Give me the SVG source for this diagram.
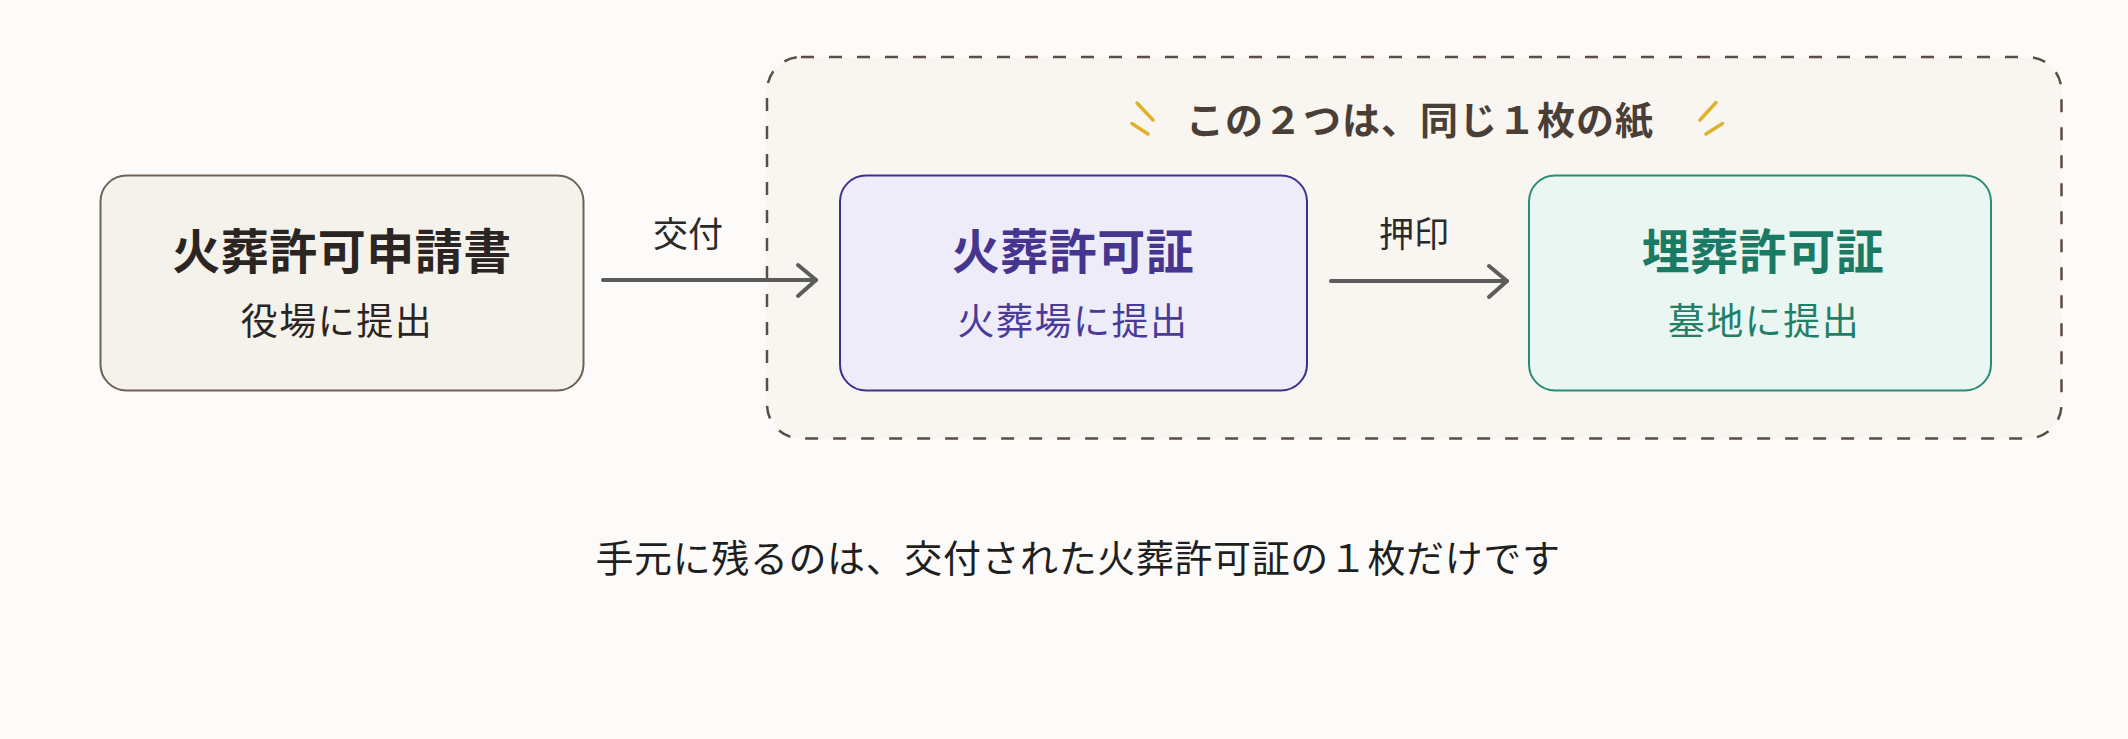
<svg xmlns="http://www.w3.org/2000/svg" width="2128" height="739" viewBox="0 0 2128 739">
  <defs>
    <style>
      text { font-family: "Noto Sans CJK JP", "Noto Sans", sans-serif; text-anchor: middle; }
      .title { font-size: 48px; font-weight: 700; letter-spacing: 0.5px; }
      .sub { font-size: 37px; font-weight: 400; letter-spacing: 1.5px; }
      .lbl { font-size: 35px; font-weight: 400; fill: #2a2a2a; }
      .conn { stroke: #5c5c5c; stroke-width: 4; fill: none; stroke-linecap: round; stroke-linejoin: round; }
      .spark { stroke: #e0b22a; stroke-width: 3.5; stroke-linecap: round; }
    </style>
  </defs>
  <rect x="0" y="0" width="2128" height="739" fill="#fcfbf9"/>

  <g id="group-same-paper">
    <rect x="767" y="57" width="1294.5" height="381.5" rx="34" fill="#f9f6f2" stroke="#5a4d44" stroke-width="2.5" stroke-dasharray="13 15"/>
    <line class="spark" x1="1137" y1="103" x2="1153" y2="120"/>
    <line class="spark" x1="1132" y1="123.5" x2="1148" y2="134"/>
    <line class="spark" x1="1716" y1="102.5" x2="1700" y2="120"/>
    <line class="spark" x1="1722.5" y1="123.5" x2="1706" y2="134"/>
    <text x="1420" y="134" style="font-size:38px;font-weight:700;fill:#4a3f36;letter-spacing:1px">この２つは、同じ１枚の紙</text>
  </g>

  <g id="node-application">
    <rect x="100.5" y="175.5" width="483" height="215" rx="26" fill="#f5f2ec" stroke="#6e6158" stroke-width="2"/>
    <text class="title" x="342" y="269" fill="#2a2522">火葬許可申請書</text>
    <text class="sub" x="337" y="335" fill="#2a2522">役場に提出</text>
  </g>

  <g id="node-cremation-permit">
    <rect x="840" y="175.5" width="467" height="215" rx="26" fill="#eeecf8" stroke="#3d3190" stroke-width="2"/>
    <text class="title" x="1073" y="269" fill="#45358f">火葬許可証</text>
    <text class="sub" x="1073" y="335" fill="#4a3b99">火葬場に提出</text>
  </g>

  <g id="node-burial-permit">
    <rect x="1529" y="175.5" width="462" height="215" rx="26" fill="#e9f6f2" stroke="#2a8c76" stroke-width="2"/>
    <text class="title" x="1763" y="269" fill="#1a7a63">埋葬許可証</text>
    <text class="sub" x="1764" y="335" fill="#1f7f67">墓地に提出</text>
  </g>

  <g id="connectors">
    <line class="conn" x1="603" y1="280" x2="816" y2="280"/>
    <polyline class="conn" points="798,265 816,280 798,296"/>
    <text class="lbl" x="688" y="247">交付</text>
    <line class="conn" x1="1331" y1="281" x2="1507" y2="281"/>
    <polyline class="conn" points="1489,266 1507,281 1489,297"/>
    <text class="lbl" x="1414" y="247">押印</text>
  </g>

  <text x="1078" y="572" style="font-size:38px;fill:#1f1f1f;letter-spacing:0.6px">手元に残るのは、交付された火葬許可証の１枚だけです</text>
</svg>
